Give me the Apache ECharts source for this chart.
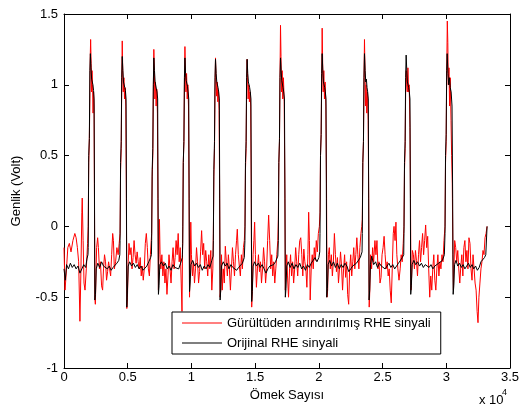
<!DOCTYPE html>
<html>
<head>
<meta charset="utf-8">
<script src="https://cdn.jsdelivr.net/npm/echarts@6/dist/echarts.min.js"></script>
<style>
html,body{margin:0;padding:0;background:#fff;}
#c{width:525px;height:410px;}
</style>
</head>
<body>
<div id="c"></div>
<script>
// Tick labels (x axis shown in units of 10^4 samples)
const xTickLabels = ['0', '0.5', '1', '1.5', '2', '2.5', '3', '3.5'];
const yTickLabels = ['-1', '-0.5', '0', '0.5', '1', '1.5'];
const seriesNames = ['Gürültüden arındırılmış RHE sinyali', 'Orijinal RHE sinyali'];

// Denoised (red) signal: [sample index, amplitude in Volt]
const redData = [
[0,-0.15],[80,-0.45],[160,-0.35],[300,-0.15],[420,-0.12],[550,-0.18],[700,-0.1],[850,-0.05],[950,-0.08],[1050,-0.15],[1150,-0.25],[1250,-0.67],[1330,-0.3],[1400,0.1],[1430,0.2],[1500,-0.1],[1570,-0.4],[1650,-0.45],[1750,-0.3],[1850,-0.12],
[1900,0.0],[1940,0.45],[1990,0.62],[2030,0.9],[2060,1.2],[2090,1.32],[2130,1.15],[2160,0.95],[2200,1.1],[2240,1.0],[2280,0.8],[2320,0.95],[2360,0.85],[2390,0.2],[2420,-0.5],[2460,-0.55],[2520,-0.3],
[2560,-0.15],[2640,-0.08],[2700,-0.15],[2780,-0.3],[2860,-0.25],[2950,-0.42],[3030,-0.45],[3100,-0.3],[3180,-0.2],[3260,-0.25],[3340,-0.38],[3420,-0.32],[3500,-0.25],[3580,-0.3],[3660,-0.35],[3740,-0.2],[3820,-0.05],[3880,-0.1],[3950,-0.3],[4050,-0.25],[4150,-0.15],[4250,-0.2],[4330,-0.12],
[4400,-0.05],[4440,0.4],[4490,0.55],[4530,1.0],[4570,1.31],[4610,1.1],[4650,0.95],[4700,1.05],[4750,0.9],[4800,0.98],[4850,0.85],[4890,0.3],[4930,-0.58],[4980,-0.5],[5040,-0.25],
[5100,-0.12],[5180,-0.2],[5260,-0.15],[5340,-0.3],[5420,-0.22],[5500,-0.1],[5580,-0.2],[5660,-0.26],[5740,-0.18],[5820,-0.25],[5900,-0.3],[5980,-0.22],[6060,-0.35],[6140,-0.28],[6220,-0.38],[6300,-0.3],[6380,-0.12],[6460,-0.05],[6540,-0.15],[6620,-0.3],[6700,-0.35],[6780,-0.2],
[6880,-0.05],[6920,0.35],[6970,0.5],[7010,0.95],[7050,1.25],[7090,1.1],[7130,0.9],[7180,1.02],[7230,0.85],[7280,0.97],[7330,0.8],[7370,0.2],[7410,-0.45],[7450,-0.2],[7490,0.05],[7540,-0.2],
[7600,-0.3],[7680,-0.2],[7760,-0.35],[7840,-0.25],[7920,-0.4],[8000,-0.3],[8080,-0.48],[8160,-0.35],[8240,-0.2],[8320,-0.3],[8400,-0.4],[8480,-0.25],[8560,-0.15],[8640,-0.3],[8720,-0.22],[8800,-0.1],[8880,-0.2],[8960,-0.05],[9040,-0.25],[9120,-0.15],[9200,-0.4],[9260,-0.6],[9300,-0.2],
[9320,0.0],[9360,0.45],[9410,0.6],[9450,1.0],[9490,1.27],[9530,1.1],[9570,0.95],[9620,1.08],[9670,0.9],[9720,1.0],[9770,0.85],[9810,0.3],[9850,-0.5],[9900,-0.3],[9950,0.03],[10000,-0.2],
[10080,-0.35],[10160,-0.25],[10240,-0.4],[10320,-0.3],[10400,-0.15],[10480,-0.25],[10560,-0.4],[10640,-0.32],[10720,-0.18],[10800,-0.03],[10880,-0.2],[10960,-0.12],[11040,-0.3],[11120,-0.17],[11200,-0.25],[11280,-0.35],[11360,-0.2],[11440,-0.3],[11520,-0.17],[11600,-0.45],[11680,-0.3],
[11720,-0.05],[11760,0.35],[11810,0.55],[11850,0.95],[11890,1.19],[11930,1.05],[11970,0.92],[12020,1.02],[12070,0.88],[12120,0.96],[12170,0.82],[12210,0.3],[12250,-0.5],[12300,-0.45],[12360,-0.2],
[12420,-0.45],[12500,-0.3],[12580,-0.4],[12660,-0.14],[12740,-0.25],[12820,-0.35],[12900,-0.2],[12980,-0.3],[13060,-0.45],[13140,-0.3],[13220,-0.15],[13300,-0.25],[13380,-0.35],[13460,-0.2],[13540,-0.1],[13600,-0.02],[13680,-0.2],[13760,-0.28],[13840,-0.35],[13920,-0.2],[14000,-0.3],[14080,-0.15],[14150,-0.1],
[14200,0.0],[14240,0.4],[14290,0.55],[14330,0.95],[14370,1.18],[14410,1.05],[14450,0.9],[14500,1.0],[14550,0.88],[14600,0.95],[14650,0.85],[14690,0.3],[14730,-0.57],[14780,-0.45],[14840,-0.2],
[14900,-0.1],[14960,0.03],[15020,-0.2],[15100,-0.43],[15180,-0.3],[15260,-0.2],[15340,-0.32],[15420,-0.25],[15500,-0.4],[15580,-0.3],[15660,-0.15],[15740,-0.25],[15820,-0.4],[15900,-0.3],[15980,-0.1],[16060,0.08],[16140,-0.1],[16220,-0.3],[16300,-0.2],[16380,-0.35],[16460,-0.25],[16540,-0.4],[16620,-0.3],[16700,-0.2],[16780,-0.1],
[16820,0.05],[16860,0.45],[16910,0.6],[16950,1.05],[16990,1.42],[17030,1.2],[17070,0.95],[17120,1.1],[17170,0.9],[17220,1.05],[17280,0.88],[17330,0.3],[17370,-0.45],[17420,-0.3],[17480,-0.2],
[17540,-0.35],[17620,-0.5],[17700,-0.3],[17780,-0.2],[17860,-0.35],[17940,-0.25],[18020,-0.4],[18100,-0.3],[18180,-0.15],[18260,-0.25],[18340,-0.35],[18420,-0.2],[18500,-0.1],[18580,-0.08],[18660,-0.2],[18740,-0.35],[18820,-0.16],[18900,-0.25],[18980,-0.3],[19060,-0.43],[19140,-0.2],[19200,0.1],[19260,-0.1],[19320,-0.52],[19400,-0.3],[19480,-0.2],[19560,-0.3],[19640,-0.15],[19720,-0.24],[19800,-0.1],[19880,-0.18],[19960,-0.05],[20040,0.0],
[20090,0.1],[20130,0.5],[20180,0.65],[20220,1.0],[20260,1.40],[20300,1.15],[20340,0.95],[20390,1.1],[20440,0.9],[20490,1.02],[20550,0.85],[20600,0.3],[20640,-0.5],[20690,-0.45],[20750,-0.2],
[20820,-0.15],[20900,-0.3],[20980,-0.2],[21060,-0.35],[21140,-0.25],[21220,-0.05],[21300,-0.2],[21380,-0.32],[21460,-0.22],[21540,-0.4],[21620,-0.3],[21700,-0.18],[21780,-0.28],[21860,-0.45],[21940,-0.3],[22020,-0.2],[22100,-0.36],[22180,-0.25],[22260,-0.48],[22340,-0.55],[22420,-0.3],[22500,-0.2],[22580,-0.35],[22660,-0.25],[22740,-0.15],[22820,-0.3],[22900,-0.2],[22980,-0.08],[23060,-0.2],[23140,-0.3],[23220,-0.15],[23300,-0.05],[23370,0.0],
[23410,0.05],[23450,0.45],[23500,0.6],[23540,1.0],[23580,1.32],[23620,1.1],[23660,0.85],[23710,1.0],[23760,0.8],[23810,0.95],[23870,0.75],[23910,0.2],[23950,-0.57],[24000,-0.45],[24060,-0.2],
[24140,-0.3],[24220,-0.15],[24300,-0.25],[24400,-0.1],[24480,-0.2],[24560,-0.1],[24640,-0.3],[24720,-0.25],[24800,-0.4],[24880,-0.36],[24960,-0.2],[25040,-0.15],[25120,-0.07],[25200,-0.2],[25280,-0.3],[25360,-0.25],[25440,-0.35],[25520,-0.3],[25600,-0.45],[25680,-0.54],[25760,-0.3],[25840,-0.05],[25900,0.0],[25980,-0.1],[26050,0.03],[26120,-0.2],[26200,-0.3],[26290,-0.38],[26380,-0.3],[26460,-0.2],[26540,-0.25],[26620,-0.12],
[26680,0.0],[26720,0.4],[26770,0.55],[26810,0.95],[26860,1.1],[26900,1.0],[26940,0.95],[26990,1.12],[27040,0.95],[27090,1.0],[27150,0.7],[27190,0.2],[27230,-0.45],[27280,-0.35],[27340,-0.17],
[27420,-0.2],[27500,-0.3],[27580,-0.17],[27660,-0.24],[27740,-0.35],[27820,-0.2],[27900,-0.1],[27980,-0.25],[28060,-0.15],[28140,-0.05],[28220,-0.2],[28300,-0.1],[28380,0.01],[28460,-0.15],[28540,-0.07],[28620,-0.3],[28700,-0.5],[28780,-0.35],[28860,-0.45],[28940,-0.3],[29020,-0.2],[29100,-0.38],[29180,-0.45],[29260,-0.3],[29340,-0.2],[29420,-0.35],[29500,-0.25],[29580,-0.3],[29660,-0.2],[29740,-0.25],[29820,-0.1],
[29900,0.0],[29940,0.45],[29990,0.6],[30030,1.05],[30080,1.45],[30120,1.3],[30160,1.0],[30210,1.12],[30260,0.85],[30310,1.05],[30370,0.75],[30420,0.5],[30470,0.3],[30520,-0.2],[30560,-0.45],[30600,-0.3],[30660,-0.1],
[30740,-0.15],[30820,-0.25],[30900,-0.17],[30980,-0.3],[31060,-0.4],[31140,-0.28],[31220,-0.2],[31300,-0.35],[31380,-0.15],[31460,-0.1],[31540,-0.25],[31620,-0.17],[31700,-0.3],[31780,-0.08],[31860,-0.12],[31940,-0.3],[32020,-0.38],[32100,-0.2],[32180,-0.3],[32260,-0.4],[32340,-0.45],[32420,-0.6],[32490,-0.68],[32560,-0.5],[32640,-0.4],[32720,-0.3],[32800,-0.25],[32880,-0.17],[32960,-0.2],[33040,-0.08],[33120,-0.05],[33200,0.0]
];

// Original (black) signal: [sample index, amplitude in Volt]
const blackData = [
[0,-0.3],[100,-0.38],[200,-0.27],[350,-0.3],[500,-0.26],[650,-0.29],[800,-0.27],[950,-0.3],[1100,-0.28],[1250,-0.33],[1400,-0.32],[1550,-0.27],[1700,-0.29],[1800,-0.23],[1880,-0.2],
[1900,-0.15],[1940,0.5],[1990,0.62],[2030,1.1],[2070,1.22],[2120,1.12],[2170,1.04],[2220,1.05],[2270,1.0],[2320,0.96],[2360,0.9],[2390,0.3],[2420,-0.52],[2470,-0.48],[2530,-0.3],
[2650,-0.26],[2800,-0.29],[2950,-0.25],[3100,-0.28],[3250,-0.27],[3400,-0.3],[3550,-0.28],[3700,-0.31],[3850,-0.29],[4000,-0.3],[4150,-0.26],[4300,-0.24],[4380,-0.2],
[4400,-0.1],[4440,0.45],[4490,0.6],[4530,1.05],[4570,1.2],[4620,1.1],[4670,1.02],[4720,1.03],[4770,0.98],[4820,0.96],[4870,0.9],[4900,0.2],[4930,-0.57],[4980,-0.45],[5040,-0.28],
[5150,-0.25],[5300,-0.28],[5450,-0.26],[5600,-0.29],[5750,-0.27],[5900,-0.3],[6050,-0.28],[6200,-0.31],[6350,-0.3],[6500,-0.28],[6650,-0.25],[6800,-0.22],[6860,-0.2],
[6880,-0.1],[6920,0.4],[6970,0.55],[7010,1.0],[7050,1.19],[7100,1.1],[7150,1.02],[7200,1.03],[7250,0.97],[7300,0.95],[7350,0.9],[7380,0.2],[7410,-0.48],[7460,-0.42],[7520,-0.27],
[7650,-0.25],[7800,-0.28],[7950,-0.26],[8100,-0.3],[8250,-0.28],[8400,-0.31],[8550,-0.27],[8700,-0.29],[8850,-0.28],[9000,-0.3],[9150,-0.26],[9280,-0.22],
[9320,-0.12],[9360,0.45],[9410,0.6],[9450,1.05],[9490,1.19],[9540,1.08],[9590,1.03],[9640,1.04],[9690,0.99],[9740,0.95],[9790,0.9],[9820,0.2],[9850,-0.46],[9900,-0.4],[9960,-0.27],
[10100,-0.24],[10250,-0.28],[10400,-0.26],[10550,-0.29],[10700,-0.27],[10850,-0.31],[11000,-0.28],[11150,-0.3],[11300,-0.27],[11450,-0.29],[11600,-0.24],[11700,-0.21],
[11720,-0.1],[11760,0.4],[11810,0.6],[11850,1.05],[11890,1.18],[11940,1.08],[11990,1.02],[12040,1.03],[12090,0.98],[12140,0.95],[12190,0.9],[12220,0.2],[12250,-0.52],[12300,-0.45],[12360,-0.28],
[12500,-0.25],[12650,-0.28],[12800,-0.26],[12950,-0.3],[13100,-0.27],[13250,-0.29],[13400,-0.28],[13550,-0.31],[13700,-0.29],[13850,-0.3],[14000,-0.26],[14150,-0.22],
[14200,-0.1],[14240,0.45],[14290,0.6],[14330,1.05],[14370,1.18],[14420,1.08],[14470,1.02],[14520,1.03],[14570,0.98],[14620,0.95],[14670,0.9],[14700,0.2],[14730,-0.53],[14780,-0.46],[14840,-0.28],
[14950,-0.25],[15100,-0.28],[15250,-0.26],[15400,-0.29],[15550,-0.27],[15700,-0.3],[15850,-0.33],[16000,-0.3],[16150,-0.28],[16300,-0.29],[16450,-0.27],[16600,-0.25],[16780,-0.21],
[16820,-0.1],[16860,0.45],[16910,0.62],[16950,1.05],[16990,1.19],[17040,1.1],[17090,1.03],[17140,1.04],[17190,0.98],[17240,0.95],[17300,0.9],[17340,0.2],[17370,-0.5],[17420,-0.44],[17480,-0.28],
[17600,-0.25],[17750,-0.29],[17900,-0.26],[18050,-0.3],[18200,-0.27],[18350,-0.29],[18500,-0.26],[18650,-0.3],[18800,-0.28],[18950,-0.31],[19100,-0.27],[19250,-0.29],[19400,-0.26],[19550,-0.27],[19700,-0.22],[19850,-0.25],[20000,-0.22],[20070,-0.18],
[20090,-0.05],[20130,0.5],[20180,0.65],[20220,1.08],[20260,1.22],[20310,1.1],[20360,1.02],[20410,1.03],[20460,0.98],[20510,0.95],[20560,0.9],[20590,0.2],[20620,-0.5],[20670,-0.44],[20730,-0.27],
[20850,-0.24],[21000,-0.28],[21150,-0.25],[21300,-0.29],[21450,-0.26],[21600,-0.3],[21750,-0.27],[21900,-0.29],[22050,-0.26],[22200,-0.28],[22350,-0.32],[22500,-0.3],[22650,-0.28],[22800,-0.29],[22950,-0.26],[23100,-0.27],[23250,-0.22],[23390,-0.18],
[23410,-0.05],[23450,0.45],[23500,0.6],[23540,1.05],[23580,1.22],[23630,1.1],[23680,1.02],[23730,1.04],[23780,0.98],[23830,0.95],[23880,0.9],[23910,0.2],[23940,-0.52],[23990,-0.45],[24050,-0.27],
[24150,-0.21],[24300,-0.27],[24450,-0.25],[24600,-0.29],[24750,-0.26],[24900,-0.28],[25050,-0.27],[25200,-0.3],[25350,-0.28],[25500,-0.26],[25650,-0.29],[25800,-0.27],[25950,-0.3],[26100,-0.28],[26250,-0.26],[26400,-0.25],[26550,-0.22],[26660,-0.2],
[26680,-0.05],[26720,0.45],[26770,0.6],[26810,1.05],[26850,1.21],[26900,1.1],[26950,1.02],[27000,1.03],[27050,0.98],[27100,0.95],[27150,0.9],[27180,0.2],[27210,-0.48],[27260,-0.42],[27320,-0.27],
[27450,-0.24],[27600,-0.27],[27750,-0.25],[27900,-0.28],[28050,-0.26],[28200,-0.29],[28350,-0.27],[28500,-0.28],[28650,-0.29],[28800,-0.27],[28950,-0.3],[29100,-0.28],[29250,-0.29],[29400,-0.26],[29550,-0.27],[29700,-0.24],[29850,-0.2],
[29900,-0.05],[29940,0.5],[29990,0.65],[30030,1.1],[30070,1.22],[30130,1.08],[30190,1.0],[30250,1.05],[30310,0.98],[30380,0.95],[30450,0.85],[30500,0.2],[30540,-0.48],[30590,-0.42],[30650,-0.27],
[30760,-0.24],[30900,-0.28],[31040,-0.26],[31180,-0.29],[31320,-0.27],[31460,-0.3],[31600,-0.28],[31740,-0.26],[31880,-0.29],[32020,-0.27],[32160,-0.3],[32300,-0.28],[32440,-0.31],[32580,-0.29],[32720,-0.25],[32860,-0.24],[33000,-0.22],[33100,-0.2],[33200,0.0]
];

const FONT = 'Liberation Sans, Arial, Helvetica, sans-serif';
const chart = echarts.init(document.getElementById('c'), null, {renderer: 'canvas'});

const baseX = {
  type: 'value', min: 0, max: 35000, interval: 5000,
  axisLine: {show: true, onZero: false, lineStyle: {color: '#000', width: 1}},
  axisTick: {show: true, inside: true, length: 5, lineStyle: {color: '#000', width: 1}},
  splitLine: {show: false}
};
const baseY = {
  type: 'value', min: -1, max: 1.5, interval: 0.5,
  axisLine: {show: true, onZero: false, lineStyle: {color: '#000', width: 1}},
  axisTick: {show: true, inside: true, length: 5, lineStyle: {color: '#000', width: 1}},
  splitLine: {show: false}
};

chart.setOption({
  animation: false,
  backgroundColor: '#fff',
  textStyle: {fontFamily: FONT},
  grid: {left: 64, right: 15, top: 14, bottom: 42},
  xAxis: [
    Object.assign({}, baseX, {
      position: 'bottom',
      axisLabel: {show: true, color: '#000', fontSize: 13, fontFamily: FONT, margin: 3,
        formatter: v => xTickLabels[Math.round(v / 5000)]},
      name: 'Ömek Sayısı', nameLocation: 'middle', nameGap: 17,
      nameTextStyle: {color: '#000', fontSize: 13, fontFamily: FONT}
    }),
    Object.assign({}, baseX, {position: 'top', axisLabel: {show: false}})
  ],
  yAxis: [
    Object.assign({}, baseY, {
      position: 'left',
      axisLabel: {show: true, color: '#000', fontSize: 13, fontFamily: FONT, margin: 6,
        formatter: v => yTickLabels[Math.round((v + 1) / 0.5)]},
      name: 'Genlik (Volt)', nameLocation: 'middle', nameGap: 41,
      nameTextStyle: {color: '#000', fontSize: 13, fontFamily: FONT}
    }),
    Object.assign({}, baseY, {position: 'right', axisLabel: {show: false}})
  ],
  legend: {
    data: seriesNames,
    orient: 'vertical',
    left: 172, top: 312,
    padding: [4, 10, 4, 10],
    itemGap: 6,
    itemWidth: 40, itemHeight: 1,
    icon: 'rect',
    backgroundColor: '#fff',
    borderColor: '#000', borderWidth: 1,
    selectedMode: false,
    textStyle: {color: '#000', fontSize: 13, fontFamily: FONT, lineHeight: 14}
  },
  graphic: [
    {type: 'text', left: 479, top: 394, style: {text: 'x 10', fill: '#000', font: '13px ' + FONT}},
    {type: 'text', left: 502, top: 388, style: {text: '4', fill: '#000', font: '9px ' + FONT}}
  ],
  series: [
    {name: seriesNames[0], type: 'line', data: redData, showSymbol: false, symbol: 'none',
     lineStyle: {color: '#ff0000', width: 1}, itemStyle: {color: '#ff0000'}, xAxisIndex: 0, yAxisIndex: 0, z: 2},
    {name: seriesNames[1], type: 'line', data: blackData, showSymbol: false, symbol: 'none',
     lineStyle: {color: '#000000', width: 1}, itemStyle: {color: '#000000'}, xAxisIndex: 0, yAxisIndex: 0, z: 3}
  ]
});
</script>
</body>
</html>
